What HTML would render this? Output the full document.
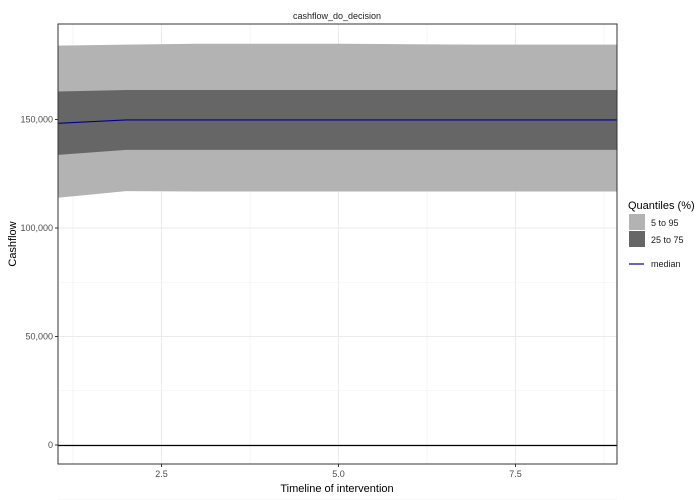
<!DOCTYPE html>
<html><head><meta charset="utf-8"><style>
body{margin:0;background:#fff}
svg{display:block;font-family:"Liberation Sans",sans-serif}
</style></head><body>
<svg id="chart" width="700" height="500" xmlns="http://www.w3.org/2000/svg">
<rect width="700" height="500" fill="#fff"/>
<g id="grid"></g>
<g id="bands"></g>
<g id="axes"></g>
<text x="337" y="19" font-size="9" text-anchor="middle" fill="#1a1a1a">cashflow_do_decision</text>
<text x="337" y="492" font-size="11" text-anchor="middle" fill="#000">Timeline of intervention</text>
<text transform="translate(16,244) rotate(-90)" font-size="11" text-anchor="middle" fill="#000">Cashflow</text>
<g>
<text x="628" y="209" font-size="11" fill="#000">Quantiles (%)</text>
<rect x="629" y="214" width="16" height="16" fill="#b3b3b3"/>
<text x="651" y="226" font-size="9" fill="#1a1a1a">5 to 95</text>
<rect x="629" y="231" width="16" height="16" fill="#666666"/>
<text x="651" y="243" font-size="9" fill="#1a1a1a">25 to 75</text>
<line x1="629" x2="644" y1="264" y2="264" stroke="#00008b" stroke-width="1.2"/>
<text x="651" y="267" font-size="9" fill="#1a1a1a">median</text>
</g>
</svg>
<script>
const xs=[1,2,3,4,5,6,7,8,9];
const q05=[113800,117000,116800,116800,116800,116800,116800,116800,116800];
const q95=[184000,184500,184900,184900,184900,184700,184500,184500,184500];
const q25=[133600,136000,136000,136000,136000,136000,136000,136000,136000];
const q75=[162900,163600,163600,163600,163600,163600,163600,163600,163600];
const med=[148200,149800,149800,149800,149800,149800,149800,149800,149800];
const xTicks=[2.5,5.0,7.5];
const xTickLabels=["2.5","5.0","7.5"];
const yTicks=[0,50000,100000,150000];
const yTickLabels=["0","50,000","100,000","150,000"];
const L=58,R=617,T=24,B=464;
const sx=v=>161.5+(v-2.5)*70.8;
const sy=v=>445-v/50000*108.5;
const NS="http://www.w3.org/2000/svg";
function mk(tag,attrs,parent){const e=document.createElementNS(NS,tag);for(const k in attrs)e.setAttribute(k,attrs[k]);parent.appendChild(e);return e;}
const grid=document.getElementById('grid'),bands=document.getElementById('bands'),axes=document.getElementById('axes');
mk('rect',{x:L,y:T,width:R-L,height:B-T,fill:'#fff'},grid);
for(let v=1.25;v<=9;v+=2.5){const l=mk('line',{x1:sx(v),x2:sx(v),y1:T,y2:B,stroke:'#f0f0f0','stroke-width':0.6},grid);}
for(let v=-25000;v<=175000;v+=50000){const l=mk('line',{x1:L,x2:R,y1:sy(v),y2:sy(v),stroke:'#f0f0f0','stroke-width':0.6},grid);}
xTicks.forEach(v=>{const l=mk('line',{x1:sx(v),x2:sx(v),y1:T,y2:B,stroke:'#ebebeb','stroke-width':1},grid);});
yTicks.forEach(v=>{const l=mk('line',{x1:L,x2:R,y1:sy(v),y2:sy(v),stroke:'#ebebeb','stroke-width':1},grid);});
function band(lo,hi,fill,name){
  let pts=xs.map((x,i)=>sx(x)+','+sy(hi[i]));
  pts=pts.concat(xs.map((x,i)=>sx(x)+','+sy(lo[i])).reverse());
  const p=mk('polygon',{points:pts.join(' '),fill:fill},bands);
  
  
}
const clip=mk('clipPath',{id:'pc'},document.getElementById('chart'));
mk('rect',{x:L,y:T,width:R-L,height:B-T},clip);
bands.setAttribute('clip-path','url(#pc)');
band(q05,q95,'#b3b3b3','band-5-95');
band(q25,q75,'#666666','band-25-75');
const ml=mk('polyline',{points:xs.map((x,i)=>sx(x)+','+sy(med[i])).join(' '),fill:'none',stroke:'#00008b','stroke-width':1.1},bands);


const zl=mk('line',{x1:L,x2:R,y1:sy(0)+0.5,y2:sy(0)+0.5,stroke:'#000','stroke-width':1.2},axes);


const fr=mk('rect',{x:L,y:T,width:R-L,height:B-T,fill:'none',stroke:'#333','stroke-width':1},axes);


xTicks.forEach((v,i)=>{
  mk('line',{x1:sx(v),x2:sx(v),y1:B,y2:B+3,stroke:'#333'},axes);
  const t=mk('text',{x:sx(v),y:B+13,'font-size':9,'text-anchor':'middle',fill:'#4d4d4d'},axes);
  t.textContent=xTickLabels[i];
  
  
});
yTicks.forEach((v,i)=>{
  mk('line',{x1:L-3,x2:L,y1:sy(v),y2:sy(v),stroke:'#333'},axes);
  const t=mk('text',{x:L-5,y:sy(v)+3,'font-size':9,'text-anchor':'end',fill:'#4d4d4d'},axes);
  t.textContent=yTickLabels[i];
  
  
});
</script>
</body></html>
